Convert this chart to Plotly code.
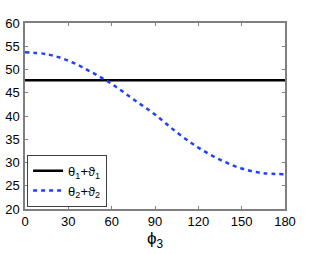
import plotly.graph_objects as go

phi3 = [0, 15, 30, 45, 60, 75, 90, 105, 120, 135, 150, 165, 180]
sum1 = [47.7] * len(phi3)
sum2 = [53.7, 53.3, 51.9, 49.6, 46.9, 43.6, 40.3, 36.5, 33.2, 30.6, 28.7, 27.7, 27.5]
x_ticks = [0, 30, 60, 90, 120, 150, 180]
y_ticks = [20, 25, 30, 35, 40, 45, 50, 55, 60]

fig = go.Figure()
fig.add_trace(go.Scatter(x=phi3, y=sum1, mode="lines",
                         line=dict(color="black", width=2.5),
                         name="θ<sub>1</sub>+ϑ<sub>1</sub>"))
fig.add_trace(go.Scatter(x=phi3, y=sum2, mode="lines", line_shape="spline",
                         line=dict(color="#2040ff", width=2.5, dash="4px,4px"),
                         name="θ<sub>2</sub>+ϑ<sub>2</sub>"))

axis_common = dict(showgrid=False, zeroline=False, showline=True, linecolor="#808080",
                   linewidth=1.5, mirror="ticks", ticks="inside", ticklen=3,
                   tickcolor="#808080", tickfont=dict(size=13, color="black"),
                   automargin=False)
fig.update_xaxes(range=[0, 180], tickvals=x_ticks,
                 title=dict(text="ϕ<sub>3</sub>", font=dict(size=17, color="black"), standoff=2),
                 **axis_common)
fig.update_yaxes(range=[20, 60], tickvals=y_ticks, ticklabelstandoff=1, **axis_common)

fig.update_layout(
    width=316, height=254,
    margin=dict(l=25, r=31, t=23, b=45),
    paper_bgcolor="white", plot_bgcolor="white",
    font=dict(family="Liberation Sans, Arial, sans-serif", color="black"),
    legend=dict(x=0.008, y=0.012, xanchor="left", yanchor="bottom",
                bordercolor="#404040", borderwidth=1, bgcolor="white",
                font=dict(size=13), tracegroupgap=0, itemwidth=30),
)
fig.write_html("out.html", config={"displayModeBar": False},
               post_script="document.body.style.margin='0';document.body.style.overflow='hidden';")
